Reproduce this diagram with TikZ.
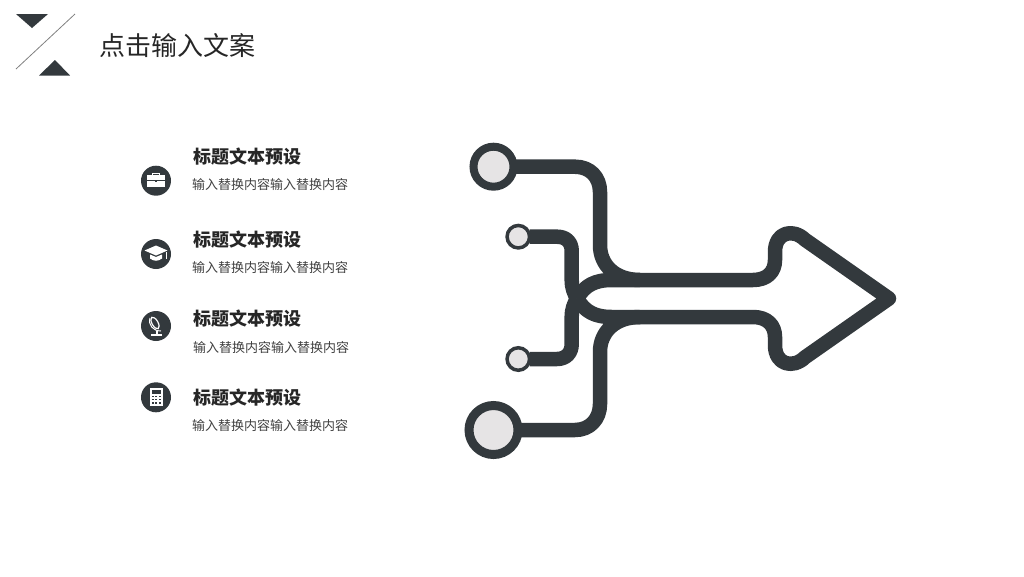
\documentclass[tikz,border=0pt]{standalone}
\usepackage{fontspec}
\setmainfont{Noto Sans CJK SC}
\definecolor{inkdark}{HTML}{33393D}
\definecolor{ringfill}{HTML}{E6E4E5}
\definecolor{headtext}{HTML}{262626}
\definecolor{subtext}{HTML}{404040}
\tikzset{
  every node/.style={inner sep=0pt, outer sep=0pt},
  ring/.style={draw=inkdark, fill=ringfill, circle},
  wire/.style={draw=inkdark, line width=14.5pt, line join=round},
  disc/.style={circle, fill=inkdark, minimum size=30pt},
  headline/.style={anchor=west, text=headtext, font=\fontsize{18}{20}\selectfont\bfseries},
  subline/.style={anchor=west, text=subtext, font=\fontsize{13}{15}\selectfont},
  glyph/.style={fill=white, draw=none},
}

\begin{document}
\begin{tikzpicture}[x=1pt, y=-1pt]
    \useasboundingbox (0,0) rectangle (1024,576);

    % corner mark and title
    \fill[inkdark] (16,14) -- (48,14) -- (32,28) -- cycle;
    \fill[inkdark] (39,75.5) -- (70,75.5) -- (55,60) -- cycle;
    \coordinate (slashtop) at (75,14);
    \coordinate (slashend) at (16,69);
    \draw[gray, line width=0.8pt] (slashend) -- (slashtop);
    \node[anchor=west, text=headtext, font=\fontsize{26}{28}\selectfont] (title) at (99,46) {点击输入文案};

    % left list
    \node[disc] (disca) at (156,180.7) {};
    \node[disc] (discb) at (156,254) {};
    \node[disc] (discc) at (156,326) {};
    \node[disc] (discd) at (156,397.3) {};

    \node[headline] (heada) at (193,157) {标题文本预设};
    \node[headline] (headb) at (193,240) {标题文本预设};
    \node[headline] (headc) at (193,319) {标题文本预设};
    \node[headline] (headd) at (193,398) {标题文本预设};

    \node[subline] (suba) at (192,185) {输入替换内容输入替换内容};
    \node[subline] (subb) at (192,268) {输入替换内容输入替换内容};
    \node[subline] (subc) at (193,348) {输入替换内容输入替换内容};
    \node[subline] (subd) at (192,426) {输入替换内容输入替换内容};

    % briefcase
    \draw[white, line width=0.8pt] (152.5,175) -- (152.5,173.2) -- (159.5,173.2) -- (159.5,175);
    \fill[glyph] (147,175) rectangle (165,187);
    \draw[inkdark, line width=0.5pt] (147,180.5) -- (165,180.5);
    \fill[inkdark] (154.8,179.5) rectangle (157.2,182);
    % cap
    \fill[glyph] (144.5,250.5) -- (156,245.5) -- (167.5,250.5) -- (156,255.5) -- cycle;
    \fill[glyph] (150,254.5) -- (156,257) -- (162,254.5) -- (162,258.5) .. controls (158,261.5) and (154,261.5) .. (150,258.5) -- cycle;
    \fill[glyph] (165.8,251.5) rectangle (166.8,258.5);
    % globe
    \draw[white, line width=1pt] (150,318) .. controls (148,325) and (153,331) .. (161,331);
    \draw[white, line width=1.2pt, rotate around={-60:(155,323)}] (155,323) ellipse (6.5pt and 3pt);
    \fill[glyph] (155.5,331) rectangle (157.5,334);
    \fill[glyph] (151,334) rectangle (162,335.8);
    % calculator
    \fill[glyph] (149.5,388.3) rectangle (162.5,406.3);
    \fill[inkdark] (151.5,390.3) rectangle (160.5,393.8);
    \fill[inkdark] (151.5,395.8) rectangle (153.5,397.3);
    \fill[inkdark] (155,395.8) rectangle (157,397.3);
    \fill[inkdark] (158.5,395.8) rectangle (160.5,397.3);
    \fill[inkdark] (151.5,398.8) rectangle (153.5,400.3);
    \fill[inkdark] (155,398.8) rectangle (157,400.3);
    \fill[inkdark] (158.5,398.8) rectangle (160.5,400.3);
    \fill[inkdark] (151.5,401.8) rectangle (153.5,403.8);
    \fill[inkdark] (155,401.8) rectangle (157,403.8);
    \fill[inkdark] (158.5,401.8) rectangle (160.5,403.8);

    % rings
    \node[ring, line width=8pt, minimum size=40pt] (ringa) at (493.5,166.7) {};
    \node[ring, line width=3.5pt, minimum size=22.5pt] (ringb) at (518.3,236.7) {};
    \node[ring, line width=3.5pt, minimum size=22.5pt] (ringc) at (518.3,359) {};
    \node[ring, line width=9pt, minimum size=49pt] (ringd) at (493.5,430) {};

    \coordinate (fork) at (577,298.5);
    \coordinate (upmerge) at (640,280);
    \coordinate (lowmerge) at (640,317);

    % connectors into the arrow
    \draw[wire] (ringa.east) -- (575,166.7) .. controls (590,166.7) and (600,177) .. (600,192)
        -- (600,245) .. controls (600,265) and (615,280) .. (upmerge);
    \draw[wire] (ringd.east) -- (575,430) .. controls (590,430) and (600,419) .. (600,404)
        -- (600,352) .. controls (600,332) and (615,317) .. (lowmerge);
    \draw[wire] (ringb.east) -- (557,236.7) .. controls (566,236.7) and (571.7,242) .. (571.7,251)
        -- (571.7,280) .. controls (571.7,288) and (574,293) .. (fork);
    \draw[wire] (ringc.east) -- (557,359) .. controls (566,359) and (571.7,353) .. (571.7,344)
        -- (571.7,317) .. controls (571.7,309) and (574,304) .. (fork);

    % arrow outline
    \draw[wire] (fork) .. controls (585,285) and (595,280) .. (612,280)
        -- (753,280) .. controls (767,280) and (775,272) .. (775,260)
        -- (775,252) .. controls (775,232) and (793,228) .. (805,239.7)
        -- (889,298.5)
        -- (805,357.3) .. controls (793,369) and (775,365) .. (775,345)
        -- (775,337) .. controls (775,325) and (767,317) .. (753,317)
        -- (612,317) .. controls (595,317) and (585,312) .. (fork);
\end{tikzpicture}
\end{document}
